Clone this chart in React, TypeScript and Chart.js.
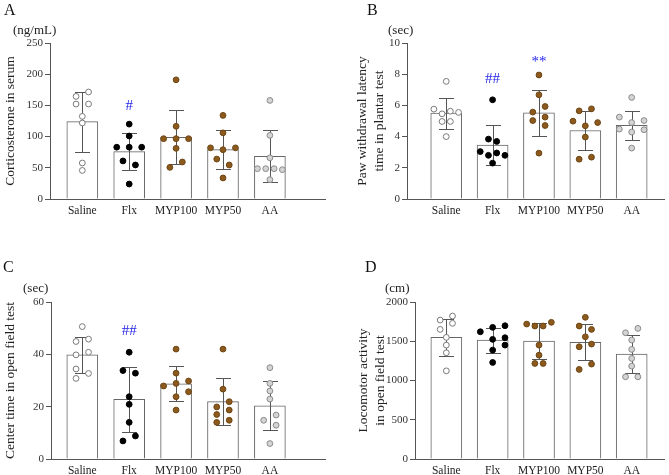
import React, { useEffect, useRef } from 'react';
import { Chart, registerables } from 'chart.js';

Chart.register(...registerables);

const FONT = "'Liberation Serif', 'Times New Roman', Times, serif";

const CATEGORIES = ['Saline', 'Flx', 'MYP100', 'MYP50', 'AA'];
const GROUP_FILL = ['#ffffff', '#000000', '#8b5a1c', '#8b5a1c', '#d4d4d4'];
const GROUP_STROKE = ['#7a7a7a', '#000000', '#6e4514', '#6e4514', '#8a8a8a'];
const JITTER_STEP = 0.133;

// ---- Panel A: Corticosterone in serum (ng/mL)
const A_MEAN = [124, 76, 99, 79, 68.5];
const A_SD = [48, 29.5, 43, 31, 41.5];
const A_POINTS = [
  [171.5, 164.4, 152.2, 152.2, 132.4, 121.8, 57.7, 45.8],
  [120, 101, 83, 83, 83, 61, 54.5, 24],
  [191, 116.5, 96.7, 96.7, 96.7, 81.2, 59.3, 50.7],
  [134, 106, 82, 79, 82, 64, 54.5, 33.7],
  [158, 102, 66, 48.6, 48.6, 48.6, 47, 31],
];
const A_JITTER = [
  [1, -1, -1, 1, 0, 0, 0, 0],
  [0, 0, -2, 0, 2, -1, 1, 0],
  [0, 0, -2, 0, 2, 0, 1, -1],
  [0, 0, -2, 0, 2, -1, 1, 0],
  [0, 0, 0, -2, -0.67, 0.67, 2, 0],
];
const A_MARKS = [{ group: 1, value: 148.4, text: '#' }];

// ---- Panel B: Paw withdrawal latency (sec)
const B_MEAN = [5.5, 3.45, 5.52, 4.39, 4.73];
const B_SD = [1.0, 1.27, 1.45, 1.23, 0.92];
const B_POINTS = [
  [7.54, 5.76, 5.46, 5.63, 5.55, 4.97, 4.97, 4.0],
  [6.36, 3.84, 3.69, 3.04, 2.95, 2.8, 2.8, 2.3],
  [7.95, 6.68, 5.93, 5.57, 5.25, 5.03, 4.71, 2.94],
  [5.65, 5.78, 4.99, 4.9, 4.69, 3.97, 2.55, 2.68],
  [6.51, 5.25, 5.03, 4.9, 4.48, 4.44, 4.29, 3.26],
];
const B_JITTER = [
  [0, -2, -0.67, 0.67, 2, -0.67, 0.67, 0],
  [0, -0.67, 0.67, -2, 0.67, -0.67, 2, 0],
  [0, 0, 1, -1, 1, -1, 1, 0],
  [-1, 1, -2, 2, 0, 0, -1, 1],
  [0, -2, 2, 0, -2, 2, 0, 0],
];
const B_MARKS = [
  { group: 1, value: 7.69, text: '##' },
  { group: 2, value: 8.8, text: '**' },
];

// ---- Panel C: Center time in open field test (sec)
const C_MEAN = [39.8, 22.8, 28.7, 21.9, 20.3];
const C_SD = [7, 12.35, 6.7, 8.95, 9.4];
const C_POINTS = [
  [50.6, 44.9, 45.8, 39.8, 40.8, 34.4, 32.7, 30.8],
  [40.8, 33.8, 32.8, 23.8, 20.9, 14, 8.8, 6.9],
  [42, 32.8, 27.9, 28.9, 29.8, 25.7, 23.8, 18.7],
  [42, 26.7, 19.9, 21.9, 18.7, 17, 14, 14.8],
  [34.9, 28.9, 26, 22.9, 14.8, 16.8, 12.9, 5.9],
];
const C_JITTER = [
  [0, -1, 1, -1, 1, -1, 1, -1],
  [0, -1, 1, 0, 0, 0, 1, -1],
  [0, 0, -2, 0, 2, 2, 0, 0],
  [0, 0, -1, 1, 1, -1, -1, 1],
  [0, 0, 0, 0, -1, 1, 1, 0],
];
const C_MARKS = [{ group: 1, value: 49, text: '##' }];

// ---- Panel D: Locomotor activity (cm)
const D_MEAN = [1549, 1515, 1502, 1486, 1336];
const D_SD = [234, 160, 228, 230, 245];
const D_POINTS = [
  [1821, 1770, 1728, 1651, 1549, 1451, 1353, 1123],
  [1621, 1677, 1698, 1524, 1545, 1451, 1387, 1230],
  [1719, 1694, 1694, 1741, 1451, 1323, 1217, 1217],
  [1805, 1694, 1651, 1557, 1430, 1464, 1209, 1141],
  [1608, 1664, 1515, 1396, 1281, 1183, 1047, 1047],
];
const D_JITTER = [
  [1, -1, 1, -1, 0, 0, 0, 0],
  [-2, 0, 2, 0, 2, 2, 0, 0],
  [-2, -0.67, 0.67, 2, 0, 0, -0.67, 0.67],
  [0, -1, 1, 0, -1, 1, 1, -1],
  [-1, 1, 0, 0, 0, 0, -1, 1],
];
const D_MARKS: { group: number; value: number; text: string }[] = [];

type Mark = { group: number; value: number; text: string };
type Spec = {
  letter: string;
  unit: string;
  titleLines: string[];
  means: number[];
  sds: number[];
  points: number[][];
  jitter: number[][];
  marks: Mark[];
  yMax: number;
  yStep: number;
  box: { left: number; top: number; width: number; height: number };
  area: { left: number; top: number; right: number; bottom: number };
  xMin: number;
  xMax: number;
  titlePad: number;
  letterPos: { left: number; top: number };
  unitPos: { left: number; top: number };
};

const PANELS: Spec[] = [
  {
    letter: 'A', unit: '(ng/mL)', titleLines: ['Corticosterone in serum'],
    means: A_MEAN, sds: A_SD, points: A_POINTS, jitter: A_JITTER, marks: A_MARKS,
    yMax: 250, yStep: 50,
    box: { left: 0, top: 0, width: 335, height: 232 },
    area: { left: 50, top: 43, right: 325, bottom: 199 },
    xMin: 0.311, xMax: 6.175, titlePad: 1.6,
    letterPos: { left: 4, top: 2 }, unitPos: { left: 13, top: 22.5 },
  },
  {
    letter: 'B', unit: '(sec)', titleLines: ['Paw withdrawal latency', 'time in plantar test'],
    means: B_MEAN, sds: B_SD, points: B_POINTS, jitter: B_JITTER, marks: B_MARKS,
    yMax: 10, yStep: 2,
    box: { left: 335, top: 0, width: 334, height: 232 },
    area: { left: 72, top: 43, right: 332, bottom: 199 },
    xMin: 0.154, xMax: 5.697, titlePad: 19.3,
    letterPos: { left: 367, top: 2 }, unitPos: { left: 388, top: 22.5 },
  },
  {
    letter: 'C', unit: '(sec)', titleLines: ['Center time in open field test'],
    means: C_MEAN, sds: C_SD, points: C_POINTS, jitter: C_JITTER, marks: C_MARKS,
    yMax: 60, yStep: 20,
    box: { left: 0, top: 232, width: 335, height: 243 },
    area: { left: 51, top: 70, right: 325, bottom: 227 },
    xMin: 0.333, xMax: 6.175, titlePad: 1.6,
    letterPos: { left: 3, top: 259 }, unitPos: { left: 23, top: 280.5 },
  },
  {
    letter: 'D', unit: '(cm)', titleLines: ['Locomotor activity', 'in open field test'],
    means: D_MEAN, sds: D_SD, points: D_POINTS, jitter: D_JITTER, marks: D_MARKS,
    yMax: 2000, yStep: 500,
    box: { left: 335, top: 232, width: 334, height: 243 },
    area: { left: 80, top: 70, right: 332, bottom: 227 },
    xMin: 0.324, xMax: 5.697, titlePad: 19.9,
    letterPos: { left: 365, top: 259 }, unitPos: { left: 385, top: 280.5 },
  },
];

function Panel({ spec }: { spec: Spec }) {
  const ref = useRef<HTMLCanvasElement>(null);

  useEffect(() => {
    const canvas = ref.current;
    if (!canvas) return;
    const { area, box } = spec;

    const barData = spec.means.map((m, i) => ({ x: i + 1, y: m }));
    const scatterSets = spec.points.map((vals, g) => ({
      type: 'scatter' as const,
      data: vals.map((v, k) => ({ x: g + 1 + spec.jitter[g][k] * JITTER_STEP, y: v })),
      pointRadius: 2.9,
      pointBackgroundColor: GROUP_FILL[g],
      pointBorderColor: GROUP_STROKE[g],
      pointBorderWidth: 1,
      showLine: false,
      order: 1,
    }));

    const overlay = {
      id: 'overlay',
      afterDatasetDraw(chart: any, args: any) {
        if (args.index !== 0) return;
        const { ctx, scales } = chart;
        const x = scales.x;
        const y = scales.y;
        ctx.save();
        ctx.strokeStyle = '#555';
        ctx.lineWidth = 1;
        spec.means.forEach((m, i) => {
          const px = Math.round(x.getPixelForValue(i + 1)) + 0.5;
          const top = Math.round(y.getPixelForValue(m + spec.sds[i])) + 0.5;
          const bot = Math.round(y.getPixelForValue(m - spec.sds[i])) + 0.5;
          ctx.beginPath();
          ctx.moveTo(px, top);
          ctx.lineTo(px, bot);
          ctx.moveTo(px - 7.5, top);
          ctx.lineTo(px + 7.5, top);
          ctx.moveTo(px - 7.5, bot);
          ctx.lineTo(px + 7.5, bot);
          ctx.stroke();
        });
        ctx.restore();
      },
      afterDraw(chart: any) {
        const { ctx, scales } = chart;
        ctx.save();
        ctx.fillStyle = '#2626e6';
        ctx.font = `15px ${FONT}`;
        ctx.textAlign = 'center';
        ctx.textBaseline = 'middle';
        spec.marks.forEach((mk) => {
          ctx.fillText(mk.text, scales.x.getPixelForValue(mk.group + 1), scales.y.getPixelForValue(mk.value));
        });
        ctx.restore();
      },
    };

    const chart = new Chart(canvas, {
      type: 'bar',
      data: {
        datasets: [
          {
            type: 'bar',
            data: barData as any,
            backgroundColor: '#ffffff',
            borderColor: '#666666',
            borderWidth: 1,
            barThickness: 31,
            order: 2,
          } as any,
          ...(scatterSets as any[]),
        ],
      },
      options: {
        animation: false,
        responsive: false,
        devicePixelRatio: 1,
        events: [],
        layout: { padding: { left: 0, top: area.top, right: box.width - area.right, bottom: 0 } },
        plugins: { legend: { display: false }, tooltip: { enabled: false } },
        scales: {
          x: {
            type: 'linear',
            min: spec.xMin,
            max: spec.xMax,
            offset: false,
            afterBuildTicks: (s: any) => {
              s.ticks = CATEGORIES.map((_, i) => ({ value: i + 1 }));
            },
            afterFit: (s: any) => {
              s.height = box.height - area.bottom;
            },
            grid: { display: true, drawOnChartArea: false, drawTicks: false },
            border: { display: true, color: '#555', width: 1 },
            ticks: {
              autoSkip: false,
              maxRotation: 0,
              minRotation: 0,
              padding: 5,
              color: '#222',
              font: { family: FONT, size: 11.5 },
              callback: (v: any) => CATEGORIES[Math.round(Number(v)) - 1] ?? '',
            },
          },
          y: {
            type: 'linear',
            min: 0,
            max: spec.yMax,
            afterFit: (s: any) => {
              s.width = area.left;
            },
            ticks: {
              stepSize: spec.yStep,
              padding: 2,
              color: '#333',
              font: { family: FONT, size: 11 },
              callback: (v: any) => String(v),
            },
            grid: { display: true, drawOnChartArea: false, drawTicks: true, tickLength: 5, color: '#555' },
            border: { display: true, color: '#555', width: 1 },
            title: {
              display: true,
              text: spec.titleLines,
              color: '#222',
              font: { family: FONT, size: 13.5, lineHeight: 1.25 },
              padding: { top: spec.titlePad, bottom: 0 },
            },
          },
        },
      } as any,
      plugins: [overlay as any],
    });
    return () => chart.destroy();
  }, [spec]);

  return (
    <>
      <canvas
        ref={ref}
        width={spec.box.width}
        height={spec.box.height}
        style={{
          position: 'absolute',
          left: spec.box.left,
          top: spec.box.top,
          width: spec.box.width,
          height: spec.box.height,
        }}
      />
      <span
        style={{
          position: 'absolute',
          left: spec.letterPos.left,
          top: spec.letterPos.top,
          fontFamily: FONT,
          fontSize: 16,
          lineHeight: '16px',
          color: '#111',
          whiteSpace: 'nowrap',
        }}
      >
        {spec.letter}
      </span>
      <span
        style={{
          position: 'absolute',
          left: spec.unitPos.left,
          top: spec.unitPos.top,
          fontFamily: FONT,
          fontSize: 13,
          lineHeight: '13px',
          color: '#222',
          whiteSpace: 'nowrap',
        }}
      >
        {spec.unit}
      </span>
    </>
  );
}

export default function App() {
  return (
    <div
      style={{
        position: 'absolute',
        left: 0,
        top: 0,
        width: 669,
        height: 475,
        background: '#ffffff',
        overflow: 'hidden',
      }}
    >
      {PANELS.map((p) => (
        <Panel key={p.letter} spec={p} />
      ))}
    </div>
  );
}
